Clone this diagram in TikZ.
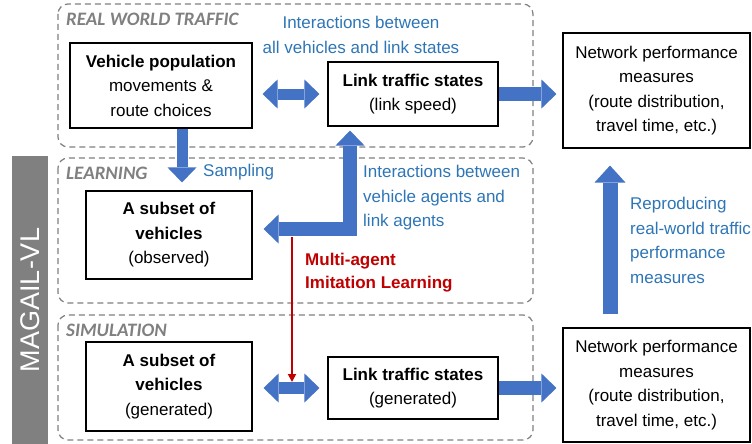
\documentclass[tikz,border=0pt]{standalone}
\usepackage{fontspec}
\setmainfont{Liberation Sans}
\newfontfamily\tagfont{Carlito}
\usepackage{xcolor}
\usetikzlibrary{arrows.meta}
\definecolor{arrowblue}{HTML}{4472C4}
\definecolor{textblue}{HTML}{2E75B6}
\definecolor{darkred}{HTML}{C00000}
\definecolor{framegray}{HTML}{808080}

\begin{document}
\begin{tikzpicture}[x=1pt, y=-1pt,
	every node/.style={font=\fontsize{17}{24.5}\selectfont, inner sep=0pt},
	box/.style={draw, line width=1.1pt, align=center},
	frame/.style={draw=framegray, line width=1.2pt, dash pattern=on 6pt off 4pt, rounded corners=10pt},
	framelabel/.style={anchor=west, text=framegray, font=\tagfont\fontsize{19}{19}\selectfont\bfseries\itshape},
	note/.style={text=textblue, align=left},
	fat/.style={draw=arrowblue, line width=13pt, -{Triangle[length=15pt, width=29pt, line width=0pt]}},
	fatboth/.style={fat, {Triangle[length=15pt, width=29pt, line width=0pt]}-{Triangle[length=15pt, width=29pt, line width=0pt]}}]
	\useasboundingbox (0,0) rectangle (752,444);
	
	% dashed frames with their titles
	\foreach \ytop/\ybot/\tag in {4/147/REAL WORLD TRAFFIC, 158/303/LEARNING, 315/440/SIMULATION} {
		\draw[frame] (58,\ytop) rectangle (533,\ybot);
		\node[framelabel] (tag\ytop) at (66,\ytop+15) {\tag};
	}
	
	% side bar
	\node[fill=framegray, text=white, rotate=90, minimum width=288pt, minimum height=36pt, font=\fontsize{27}{27}\selectfont] (magail) at (30,300) {MAGAIL-VL};
	
	% boxes
	\node[box, minimum width=182pt, minimum height=85pt] (vehpop) at (161,85.5) {\textbf{Vehicle population}\\movements \&\\route choices};
	\node[box, minimum width=170pt, minimum height=64pt] (linkreal) at (413,94) {\textbf{Link traffic states}\\(link speed)};
	\node[box, minimum width=187pt, minimum height=115pt] (netreal) at (656.5,90.5) {Network performance\\measures\\(route distribution,\\travel time, etc.)};
	\node[box, minimum width=166pt, minimum height=88pt] (observed) at (169,235) {\textbf{A subset of}\\\textbf{vehicles}\\(observed)};
	\node[box, minimum width=166pt, minimum height=89pt] (generated) at (169,386.5) {\textbf{A subset of}\\\textbf{vehicles}\\(generated)};
	\node[box, minimum width=170pt, minimum height=62pt] (linksim) at (413,388) {\textbf{Link traffic states}\\(generated)};
	\node[box, minimum width=187pt, minimum height=114pt] (netsim) at (656.5,385) {Network performance\\measures\\(route distribution,\\travel time, etc.)};
	
	% block arrows
	\draw[fatboth, line width=11pt, shorten <=10pt, shorten >=8pt] (vehpop.east |- linkreal.west) -- (linkreal.west);
	\draw[fat, line width=14pt, shorten >=6pt] (linkreal.east) -- (linkreal.east -| netreal.west);
	\draw[fat, line width=11pt, shorten >=8pt] ([xshift=21pt]vehpop.south) -- ([xshift=21pt]vehpop.south |- observed.north);
	\coordinate (bend) at (350,229);
	\draw[fatboth, line width=14pt, shorten <=11pt, shorten >=4pt] (observed.east |- bend) -- (bend) -- (bend |- linkreal.south);
	\draw[fatboth, line width=12pt, shorten <=11pt, shorten >=8pt] (generated.east |- linksim.west) -- (linksim.west);
	\draw[fat, line width=14pt, shorten >=6pt] (linksim.east) -- (linksim.east -| netsim.west);
	\draw[fat, line width=15pt, -{Triangle[length=17pt, width=31pt, line width=0pt]}, shorten <=13pt, shorten >=17pt] ([xshift=-46.5pt]netsim.north) -- ([xshift=-46.5pt]netreal.south);
	
	% imitation learning link
	\coordinate (redtop) at (292,237);
	\coordinate (redtip) at (292,382);
	\draw[darkred, line width=1.8pt, -{Triangle[length=8pt, width=8pt]}] (redtop) -- (redtip);
	
	% labels
	\node[note, align=center] (intall) at (361,35) {Interactions between\\all vehicles and link states};
	\node[note, anchor=west] (sampling) at (203,172) {Sampling};
	\node[note, anchor=west] (intagents) at (363,198) {Interactions between\\vehicle agents and\\link agents};
	\node[anchor=west, align=left, text=darkred, font=\fontsize{17}{23.5}\selectfont\bfseries] (mail) at (305,272.5) {Multi-agent\\Imitation Learning};
	\node[note, anchor=west] (reproduce) at (630,240.5) {Reproducing\\real-world traffic\\performance\\measures};
\end{tikzpicture}
\end{document}
